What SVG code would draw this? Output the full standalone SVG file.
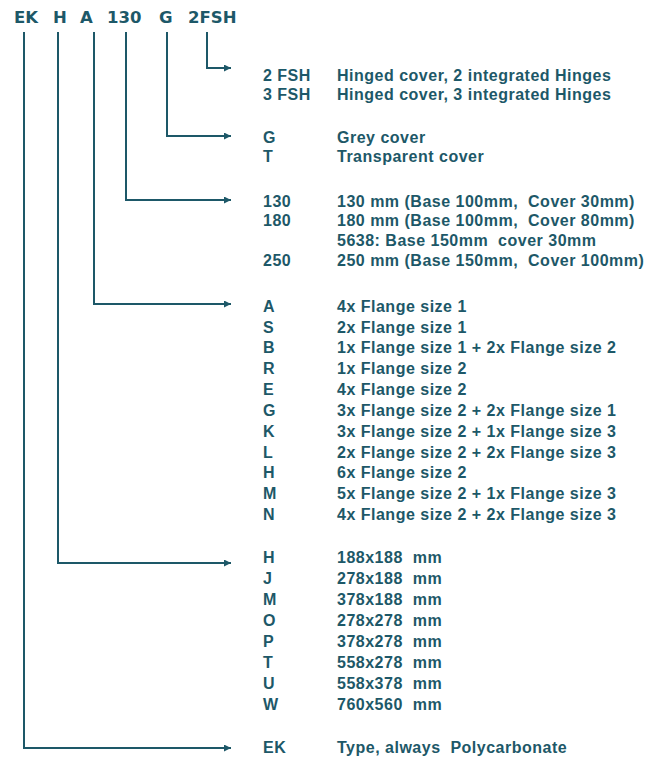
<svg xmlns="http://www.w3.org/2000/svg" width="647" height="759" viewBox="0 0 647 759">
<defs>
<style>
.hd{font-family:"DejaVu Sans",Verdana,sans-serif;font-weight:bold;font-size:16.5px;fill:#1d5868}
.t{font-family:"Liberation Sans",Arial,sans-serif;font-weight:bold;font-size:16px;letter-spacing:0.5px;fill:#1d5868;white-space:pre}
.ln{fill:none;stroke:#1d5868;stroke-width:2;marker-end:url(#ah)}
</style>
<marker id="ah" viewBox="0 0 10 10" refX="10" refY="5" markerUnits="userSpaceOnUse" markerWidth="9" markerHeight="7" orient="auto">
<path d="M0,0 L10,5 L0,10 Z" fill="#1d5868"/>
</marker>
</defs>
<rect width="647" height="759" fill="#ffffff"/>
<g id="header">
<text class="hd" x="14" y="23">EK</text>
<text class="hd" x="53" y="23">H</text>
<text class="hd" x="80" y="23">A</text>
<text class="hd" x="107" y="23">130</text>
<text class="hd" x="159" y="23">G</text>
<text class="hd" x="188" y="23">2FSH</text>
</g>
<g id="connectors">
<path class="ln" d="M207,32 V68 H231"/>
<path class="ln" d="M167,32 V136 H231"/>
<path class="ln" d="M126,32 V200 H231"/>
<path class="ln" d="M94,32 V304 H231"/>
<path class="ln" d="M58,32 V563 H231"/>
<path class="ln" d="M24,32 V748 H231"/>
</g>
<g id="hinges">
<text class="t" x="263" y="81">2 FSH</text><text class="t" x="337" y="81">Hinged cover, 2 integrated Hinges</text>
<text class="t" x="263" y="100">3 FSH</text><text class="t" x="337" y="100">Hinged cover, 3 integrated Hinges</text>
</g>
<g id="cover">
<text class="t" x="263" y="143">G</text><text class="t" x="337" y="143">Grey cover</text>
<text class="t" x="263" y="162">T</text><text class="t" x="337" y="162">Transparent cover</text>
</g>
<g id="height">
<text class="t" x="263" y="207">130</text><text class="t" x="337" y="207">130 mm (Base 100mm,  Cover 30mm)</text>
<text class="t" x="263" y="226">180</text><text class="t" x="337" y="226">180 mm (Base 100mm,  Cover 80mm)</text>
<text class="t" x="337" y="246">5638: Base 150mm  cover 30mm</text>
<text class="t" x="263" y="266">250</text><text class="t" x="337" y="266">250 mm (Base 150mm,  Cover 100mm)</text>
</g>
<g id="flanges">
<text class="t" x="263" y="312">A</text><text class="t" x="337" y="312">4x Flange size 1</text>
<text class="t" x="263" y="333">S</text><text class="t" x="337" y="333">2x Flange size 1</text>
<text class="t" x="263" y="353">B</text><text class="t" x="337" y="353">1x Flange size 1 + 2x Flange size 2</text>
<text class="t" x="263" y="374">R</text><text class="t" x="337" y="374">1x Flange size 2</text>
<text class="t" x="263" y="395">E</text><text class="t" x="337" y="395">4x Flange size 2</text>
<text class="t" x="263" y="416">G</text><text class="t" x="337" y="416">3x Flange size 2 + 2x Flange size 1</text>
<text class="t" x="263" y="437">K</text><text class="t" x="337" y="437">3x Flange size 2 + 1x Flange size 3</text>
<text class="t" x="263" y="458">L</text><text class="t" x="337" y="458">2x Flange size 2 + 2x Flange size 3</text>
<text class="t" x="263" y="478">H</text><text class="t" x="337" y="478">6x Flange size 2</text>
<text class="t" x="263" y="499">M</text><text class="t" x="337" y="499">5x Flange size 2 + 1x Flange size 3</text>
<text class="t" x="263" y="520">N</text><text class="t" x="337" y="520">4x Flange size 2 + 2x Flange size 3</text>
</g>
<g id="sizes">
<text class="t" x="263" y="563">H</text><text class="t" x="337" y="563">188x188  mm</text>
<text class="t" x="263" y="584">J</text><text class="t" x="337" y="584">278x188  mm</text>
<text class="t" x="263" y="605">M</text><text class="t" x="337" y="605">378x188  mm</text>
<text class="t" x="263" y="626">O</text><text class="t" x="337" y="626">278x278  mm</text>
<text class="t" x="263" y="647">P</text><text class="t" x="337" y="647">378x278  mm</text>
<text class="t" x="263" y="668">T</text><text class="t" x="337" y="668">558x278  mm</text>
<text class="t" x="263" y="689">U</text><text class="t" x="337" y="689">558x378  mm</text>
<text class="t" x="263" y="710">W</text><text class="t" x="337" y="710">760x560  mm</text>
</g>
<g id="type">
<text class="t" x="263" y="753">EK</text><text class="t" x="337" y="753">Type, always  Polycarbonate</text>
</g>
</svg>
